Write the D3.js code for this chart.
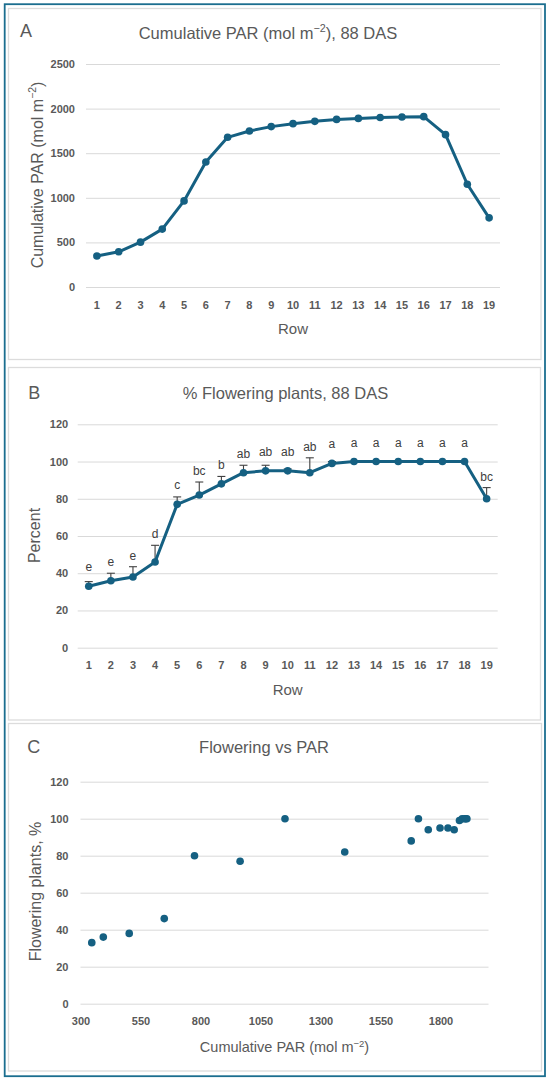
<!DOCTYPE html>
<html>
<head>
<meta charset="utf-8">
<script src="https://cdn.jsdelivr.net/npm/d3@7"></script>
<style>
  html, body { margin: 0; padding: 0; background: #fff; }
  svg { display: block; }
  text { font-family: "Liberation Sans", Arial, sans-serif; }
</style>
</head>
<body>
<svg id="chart" width="550" height="1084"></svg>
<script>
// ---------- DATA ----------
const rows = ["1","2","3","4","5","6","7","8","9","10","11","12","13","14","15","16","17","18","19"];
const parValues = [347, 395, 503, 649, 965, 1401, 1678, 1749, 1798, 1831, 1857, 1879, 1890, 1901, 1905, 1910, 1708, 1152, 775];
const floweringPct = [33, 36, 38, 46, 77, 82, 88, 94, 95, 95, 94, 99, 100, 100, 100, 100, 100, 100, 80];
const floweringErr = [2.5, 4, 5.5, 9, 4, 7, 4, 4, 3, 1, 8, 1, 0, 0, 0, 0, 0, 0, 6];
const sigLetters = ["e","e","e","d","c","bc","b","ab","ab","ab","ab","a","a","a","a","a","a","a","bc"];
const parTicks = [0, 500, 1000, 1500, 2000, 2500];
const pctTicks = [0, 20, 40, 60, 80, 100, 120];
const parAxisTicks = [300, 550, 800, 1050, 1300, 1550, 1800];

// ---------- STYLE ----------
const SERIES = "#156082";
const TXT = "#595959";
const GRID = "#d9d9d9";

const svg = d3.select("#chart");

// outer frame and panel frames
svg.append("rect").attr("x", 4.7).attr("y", 4.2).attr("width", 540.3).attr("height", 1072)
  .attr("fill", "none").attr("stroke", "#1b6e8f").attr("stroke-width", 1.8);
[[8.5, 8.5, 532.5, 351], [8.5, 367.5, 532, 352.5], [8.5, 723.5, 533, 347.5]].forEach(r => {
  svg.append("rect").attr("x", r[0]).attr("y", r[1]).attr("width", r[2]).attr("height", r[3])
    .attr("fill", "#fff").attr("stroke", "#dcdcdc").attr("stroke-width", 1.3);
});

function styleAxisText(g) {
  g.selectAll("text").attr("fill", TXT).attr("font-size", "11px").attr("font-weight", "bold")
    .attr("font-family", "'Liberation Sans', Arial, sans-serif");
}

function yGrid(g, y, ticks, left, right, pad) {
  const ax = g.append("g").attr("transform", `translate(${left},0)`)
    .call(d3.axisLeft(y).tickValues(ticks).tickSize(-(right - left)).tickPadding(pad).tickFormat(d3.format("d")));
  ax.select(".domain").remove();
  ax.selectAll("line").attr("stroke", GRID).attr("stroke-width", 1);
  styleAxisText(ax);
}

function xAxis(g, x, bottom, opts) {
  const ax = g.append("g").attr("transform", `translate(0,${bottom})`)
    .call(opts);
  ax.select(".domain").remove();
  ax.selectAll("line").remove();
  styleAxisText(ax);
}

function title(g, txt, supAfter, rest, cx, by, size) {
  const t = g.append("text").attr("x", cx).attr("y", by).attr("text-anchor", "middle")
    .attr("fill", TXT).attr("font-size", size + "px");
  t.append("tspan").text(txt);
  if (supAfter) {
    t.append("tspan").attr("dy", -size * 0.38).attr("font-size", (size * 0.65) + "px").text("\u22122");
    t.append("tspan").attr("dy", size * 0.38).text(rest);
  }
  return t;
}

function panelLetter(g, L, x, y) {
  g.append("text").attr("x", x).attr("y", y).attr("fill", TXT).attr("font-size", "18px").text(L);
}

function yTitle(g, parts, bx, cy, size) {
  const t = g.append("text").attr("transform", `translate(${bx},${cy}) rotate(-90)`)
    .attr("text-anchor", "middle").attr("fill", TXT).attr("font-size", size + "px");
  t.append("tspan").text(parts[0]);
  if (parts.length > 1) {
    t.append("tspan").attr("dy", -size * 0.38).attr("font-size", (size * 0.65) + "px").text("\u22122");
    t.append("tspan").attr("dy", size * 0.38).text(parts[1]);
  }
}

// ---------- PANEL A ----------
{
  const g = svg.append("g");
  const L = 86, R = 500, B = 287, T = 64;
  const x = d3.scaleBand().domain(rows).range([L, R]);
  const y = d3.scaleLinear().domain([0, 2500]).range([B, T]);
  panelLetter(g, "A", 20, 37);
  title(g, "Cumulative PAR (mol m", true, "), 88 DAS", 268, 38.5, 16.5);
  yGrid(g, y, parTicks, L, R, 11);
  xAxis(g, x, B, d3.axisBottom(x).tickSize(0).tickPadding(14));
  yTitle(g, ["Cumulative PAR (mol m", ")"], 42.5, 175, 16);
  g.append("text").attr("x", (L + R) / 2).attr("y", 334).attr("text-anchor", "middle")
    .attr("fill", TXT).attr("font-size", "15px").text("Row");
  const data = rows.map((r, i) => ({ r, v: parValues[i] }));
  g.append("path").datum(data)
    .attr("d", d3.line().x(d => x(d.r) + x.bandwidth() / 2).y(d => y(d.v)))
    .attr("fill", "none").attr("stroke", SERIES).attr("stroke-width", 3).attr("stroke-linejoin", "round");
  g.selectAll("circle.a").data(data).join("circle")
    .attr("cx", d => x(d.r) + x.bandwidth() / 2).attr("cy", d => y(d.v)).attr("r", 3.8).attr("fill", SERIES);
}

// ---------- PANEL B ----------
{
  const g = svg.append("g");
  const L = 77.7, R = 497.7, B = 647.7, T = 424.3;
  const x = d3.scaleBand().domain(rows).range([L, R]);
  const y = d3.scaleLinear().domain([0, 120]).range([B, T]);
  panelLetter(g, "B", 28.3, 399);
  title(g, "% Flowering plants, 88 DAS", false, "", 285.5, 399, 16.5);
  yGrid(g, y, pctTicks, L, R, 9.5);
  xAxis(g, x, B, d3.axisBottom(x).tickSize(0).tickPadding(14));
  yTitle(g, ["Percent"], 39.5, 535.5, 16);
  g.append("text").attr("x", (L + R) / 2).attr("y", 695).attr("text-anchor", "middle")
    .attr("fill", TXT).attr("font-size", "15px").text("Row");
  const data = rows.map((r, i) => ({ r, v: floweringPct[i], e: floweringErr[i], s: sigLetters[i] }));
  const cx = d => x(d.r) + x.bandwidth() / 2;
  // error bars (plus direction)
  const eb = g.append("g").attr("stroke", "#404040").attr("stroke-width", 1.1);
  data.filter(d => d.e > 0).forEach(d => {
    eb.append("line").attr("x1", cx(d)).attr("x2", cx(d)).attr("y1", y(d.v)).attr("y2", y(d.v + d.e));
    eb.append("line").attr("x1", cx(d) - 4).attr("x2", cx(d) + 4).attr("y1", y(d.v + d.e)).attr("y2", y(d.v + d.e));
  });
  g.append("path").datum(data)
    .attr("d", d3.line().x(cx).y(d => y(d.v)))
    .attr("fill", "none").attr("stroke", SERIES).attr("stroke-width", 3).attr("stroke-linejoin", "round");
  g.selectAll("circle.b").data(data).join("circle")
    .attr("cx", cx).attr("cy", d => y(d.v)).attr("r", 3.8).attr("fill", SERIES);
  g.selectAll("text.sig").data(data).join("text").attr("class", "sig")
    .attr("x", cx).attr("y", d => Math.min(y(d.v) - 15, y(d.v + d.e) - 7))
    .attr("text-anchor", "middle").attr("fill", "#404040").attr("font-size", "12px").text(d => d.s);
}

// ---------- PANEL C ----------
{
  const g = svg.append("g");
  const L = 80.5, R = 488.5, B = 1003.7, T = 781.7;
  const x = d3.scaleLinear().domain([300, 2000]).range([L, R]);
  const y = d3.scaleLinear().domain([0, 120]).range([B, T]);
  panelLetter(g, "C", 27.3, 753);
  title(g, "Flowering vs PAR", false, "", 264, 753.3, 16.5);
  yGrid(g, y, pctTicks, L, R, 12);
  xAxis(g, x, B, d3.axisBottom(x).tickValues(parAxisTicks).tickSize(0).tickPadding(14).tickFormat(d3.format("d")));
  yTitle(g, ["Flowering plants, %"], 41, 891.5, 16);
  const xt = g.append("text").attr("x", (L + R) / 2).attr("y", 1052).attr("text-anchor", "middle")
    .attr("fill", TXT).attr("font-size", "14.5px");
  xt.append("tspan").text("Cumulative PAR (mol m");
  xt.append("tspan").attr("dy", -5.5).attr("font-size", "9.5px").text("\u22122");
  xt.append("tspan").attr("dy", 5.5).text(")");
  const data = parValues.map((p, i) => ({ p, f: floweringPct[i] }));
  g.selectAll("circle.c").data(data).join("circle")
    .attr("cx", d => x(d.p)).attr("cy", d => y(d.f)).attr("r", 3.8).attr("fill", SERIES);
}
</script>
</body>
</html>
